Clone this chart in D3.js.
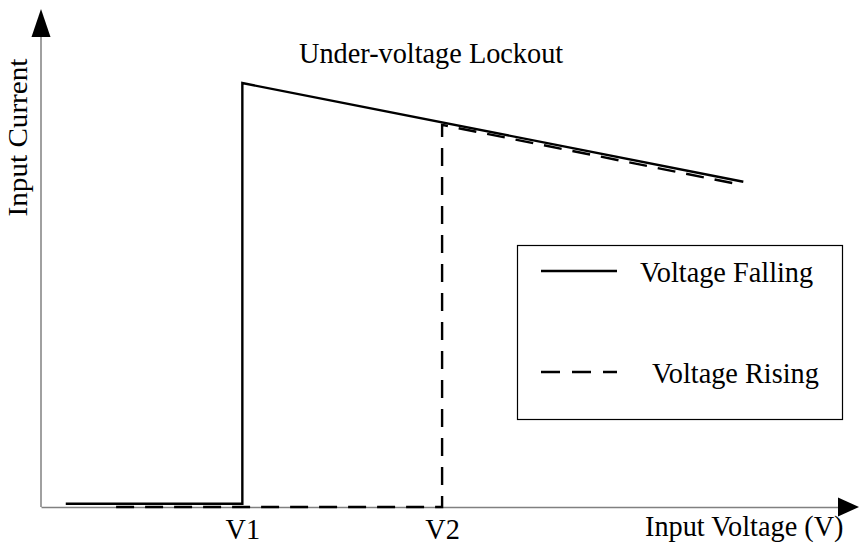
<!DOCTYPE html>
<html>
<head>
<meta charset="utf-8">
<script src="https://cdn.jsdelivr.net/npm/d3@7"></script>
<style>
  body { margin: 0; background: #fff; }
  text { font-family: "Liberation Serif", "Times New Roman", serif; fill: #000; }
</style>
</head>
<body>
<div id="chart"></div>
<script>
// voltage / current in arbitrary units (no scale printed on the chart)
let fallingV = [0.31, 2.52, 2.52, 8.79];
let fallingI = [0.07, 0.07, 9.02, 6.92];
let risingV = [0.94, 5.02, 5.02, 8.72];
let risingI = [0.0, 0.0, 8.13, 6.87];

let tickValues = [2.52, 5.02];
let tickLabels = ['V1', 'V2'];

let legendLabels = ['Voltage Falling', 'Voltage Rising'];
let title = 'Under-voltage Lockout';
let xTitle = 'Input Voltage (V)';
let yTitle = 'Input Current';

let W = 859, H = 547;
let stretch = 1.07;
let fontSize = 28.3;

let x = d3.scaleLinear().domain([0, 10]).range([41, 840]);
let y = d3.scaleLinear().domain([0, 10]).range([507, 37]);

let svg = d3.select('#chart').append('svg')
  .attr('width', W)
  .attr('height', H);

// x axis with the V1 / V2 labels
let xAxis = svg.append('g')
  .attr('transform', `translate(0, ${y(0)})`)
  .call(d3.axisBottom(x)
    .tickValues(tickValues)
    .tickFormat((d, i) => tickLabels[i])
    .tickSize(0)
    .tickSizeOuter(0));

xAxis.select('.domain').attr('stroke', '#808080').attr('stroke-width', 1.5);
xAxis.selectAll('.tick line').remove();
xAxis.selectAll('.tick text')
  .attr('font-family', '"Liberation Serif", "Times New Roman", serif')
  .attr('font-size', fontSize)
  .attr('fill', '#000')
  .attr('dy', 0)
  .attr('y', 32 / stretch)
  .attr('transform', `scale(1, ${stretch})`);

// y axis line
svg.append('line')
  .attr('x1', x(0)).attr('x2', x(0))
  .attr('y1', y(0)).attr('y2', y(10))
  .attr('stroke', '#808080')
  .attr('stroke-width', 1.5);

// arrow heads
svg.append('path')
  .attr('d', `M${x(0) - 9.5},${y(10)} L${x(0) + 9.5},${y(10)} L${x(0)},9 Z`)
  .attr('fill', '#000');
svg.append('path')
  .attr('d', `M${x(10) - 2},${y(0) - 9.5} L${x(10) - 2},${y(0) + 9.5} L${W},${y(0)} Z`)
  .attr('fill', '#000');

let line = d3.line()
  .x((d) => x(d[0]))
  .y((d) => y(d[1]));

let risingData = d3.zip(risingV, risingI);
let fallingData = d3.zip(fallingV, fallingI);

svg.append('path')
  .datum(risingData)
  .attr('d', line)
  .attr('fill', 'none')
  .attr('stroke', '#000')
  .attr('stroke-width', 2.4)
  .attr('stroke-dasharray', '18,11');

svg.append('path')
  .datum(fallingData)
  .attr('d', line)
  .attr('fill', 'none')
  .attr('stroke', '#000')
  .attr('stroke-width', 2.4);

function label(tx, ty, str, anchor, rotate, s) {
  return svg.append('text')
    .attr('transform', `translate(${tx}, ${ty}) scale(1, ${s || stretch})` + (rotate ? ' rotate(-90)' : ''))
    .attr('text-anchor', anchor || 'start')
    .attr('font-size', fontSize)
    .text(str);
}

label(299, 63, title);
label(645, 536, xTitle);
label(27, 137.5, yTitle, 'middle', true, 1.03);

// legend
let legend = svg.append('g');
legend.append('rect')
  .attr('x', 517.5).attr('y', 245.5)
  .attr('width', 325).attr('height', 174)
  .attr('fill', 'none')
  .attr('stroke', '#000')
  .attr('stroke-width', 1.2);

let legendY = [271, 372];
let legendX = [640, 652];
legend.selectAll('line.key')
  .data(legendLabels)
  .enter()
  .append('line')
  .attr('class', 'key')
  .attr('x1', 541).attr('x2', 617)
  .attr('y1', (d, i) => legendY[i]).attr('y2', (d, i) => legendY[i])
  .attr('stroke', '#000')
  .attr('stroke-width', 2.4)
  .attr('stroke-dasharray', (d, i) => (i === 1 ? '19,12' : null));

legendLabels.forEach((d, i) => label(legendX[i], legendY[i] + 11, d));
</script>
</body>
</html>
